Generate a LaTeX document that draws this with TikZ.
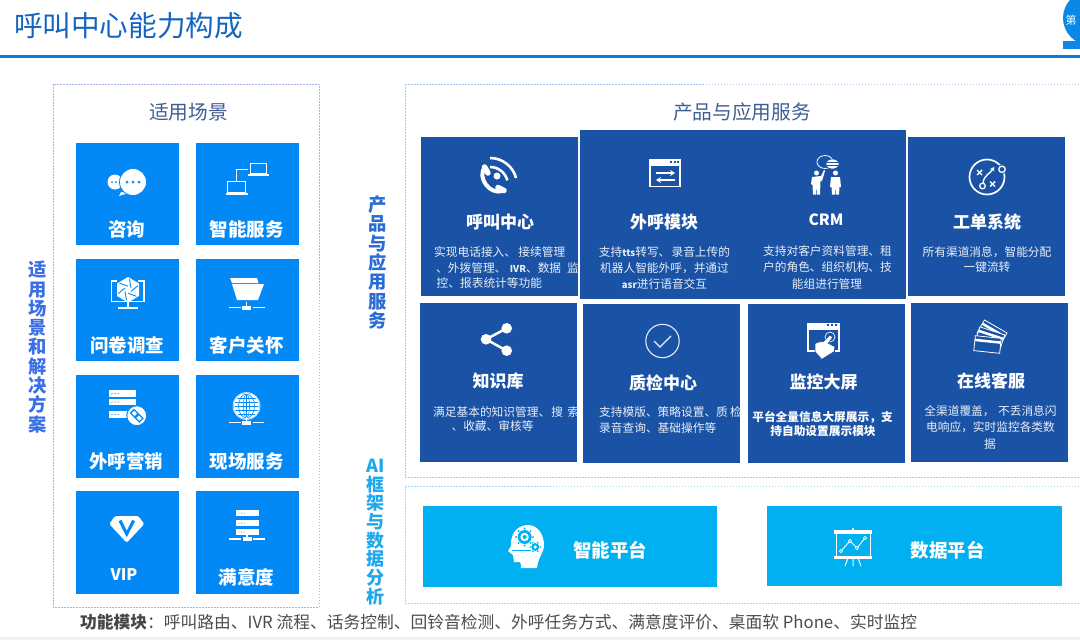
\documentclass[tikz,border=0pt]{standalone}
\usepackage{fontspec}
\usetikzlibrary{arrows.meta}
\setmainfont{Noto Sans CJK SC}
\definecolor{bright}{HTML}{0389F5}
\definecolor{deep}{HTML}{1A53A6}
\definecolor{cyanb}{HTML}{00B0F0}
\definecolor{titleblue}{HTML}{1565C0}
\definecolor{rulec}{HTML}{0A7BE2}
\definecolor{slate}{HTML}{3F5F93}
\definecolor{sideA}{HTML}{3A6FE5}
\definecolor{sideB}{HTML}{2A6CD6}
\definecolor{sideC}{HTML}{1FA8EE}
\definecolor{dashA}{HTML}{A4B2F0}
\definecolor{dashB}{HTML}{A8C8EC}
\definecolor{dashC}{HTML}{A8DCF2}
\tikzset{
  brightcell/.style={fill=bright,inner sep=0,outer sep=0},
  deepcell/.style={fill=deep,inner sep=0,outer sep=0},
  cyancell/.style={fill=cyanb,inner sep=0,outer sep=0},
  lab/.style={font=\fontsize{18.5}{20}\bfseries\selectfont,text=white,inner sep=0},
  deeptitle/.style={font=\fontsize{17}{20}\bfseries\selectfont,text=white,inner sep=0},
  desc/.style={font=\fontsize{11.7}{13}\selectfont,text=white!90!deep,inner sep=0},
  descb/.style={font=\fontsize{11.7}{13}\bfseries\selectfont,text=white,inner sep=0},
  side/.style={inner sep=0,align=center,font=\fontsize{18.3}{19.3}\bfseries\selectfont},
  head/.style={font=\fontsize{19.7}{22}\selectfont,text=slate,inner sep=0},
  ln/.style={white,line width=1},
  dotline/.style={dash pattern=on 1.5pt off 1.5pt},
}
\newcommand\cellbox[6]{\node[#6,minimum width={(#4-#2)*1pt},minimum height={(#5-#3)*1pt}] (#1) at ({(#2+#4)/2},{-(#3+#5)/2}) {};}
\newcommand\netbar[3]{%
  \fill[white] (#1-#3,-#2-.7) rectangle (#1-6,-#2+.7);
  \fill[white] (#1+6,-#2-.7) rectangle (#1+#3,-#2+.7);
  \fill[white] (#1-4.5,-#2-2) rectangle (#1+4.5,-#2+2);
  \fill[white] (#1-.7,-#2) rectangle (#1+.7,-#2+6);}
\begin{document}
\begin{tikzpicture}[x=1pt,y=1pt]
\useasboundingbox (0,0) rectangle (1080,-640);
\clip (0,0) rectangle (1080,-640);
\fill[white] (0,0) rectangle (1080,-640);
\fill[black!6] (0,-636.5) rectangle (1080,-640);
% header
\node[inner sep=0,anchor=west,text=titleblue,font=\fontsize{28.6}{32}\selectfont] (maintitle) at (14,-26) {呼叫中心能力构成};
\fill[rulec] (0,-54.5) rectangle (1080,-58);
\fill[rulec!90!cyan] (1090,-18) circle (27);
\fill[rulec!90!cyan] (1063,-41) rectangle (1080,-49);
\node[inner sep=0,text=white,font=\fontsize{11}{13}\selectfont] (pagemark) at (1071,-20) {第};
% panels
\draw[dotline,color=dashA] (53,-84) rectangle (319,-607);
\draw[dotline,color=dashB] (405,-84) rectangle (1090,-477);
\draw[dotline,color=dashC] (405,-486) rectangle (1090,-603);
\node[head] (hleft) at (188.5,-112) {适用场景};
\node[head] (hright) at (742,-112) {产品与应用服务};
% side labels
\node[side,text=sideA] (sidea) at (38,-347) {适\\用\\场\\景\\和\\解\\决\\方\\案};
\node[side,text=sideB] (sideb) at (378,-262.5) {产\\品\\与\\应\\用\\服\\务};
\node[side,text=sideC,font=\fontsize{18}{18.7}\bfseries\selectfont] (sidec) at (375.5,-532) {AI\\框\\架\\与\\数\\据\\分\\析};
% left cells
\cellbox{c1}{76}{143}{179}{245}{brightcell}
\cellbox{c2}{196}{143}{299}{245}{brightcell}
\cellbox{c3}{76}{259}{179}{361}{brightcell}
\cellbox{c4}{196}{259}{299}{361}{brightcell}
\cellbox{c5}{76}{375}{179}{478}{brightcell}
\cellbox{c6}{196}{375}{299}{478}{brightcell}
\cellbox{c7}{76}{491}{179}{594}{brightcell}
\cellbox{c8}{196}{491}{299}{594}{brightcell}
\node[lab] (t1) at (126.5,-229) {咨询};
\node[lab] (t2) at (246.5,-229) {智能服务};
\node[lab] (t3) at (127,-345) {问卷调查};
\node[lab] (t4) at (246.5,-345) {客户关怀};
\node[lab] (t5) at (126,-461) {外呼营销};
\node[lab] (t6) at (246.5,-461) {现场服务};
\node[lab,font=\fontsize{16}{20}\bfseries\selectfont] (t7) at (124,-575) {VIP};
\node[lab] (t8) at (246.5,-577) {满意度};
% icon: chat
\fill[white] (115,-182) circle (7.5);
\fill[white] (121,-192) -- (119,-196) -- (128,-193) -- cycle;
\fill[white,draw=bright,line width=.8] (133,-182) circle (13.5);
\foreach \i in {127,133,139} \fill[bright] (\i,-182) circle (1.5);
\foreach \i in {112,116} \fill[bright] (\i,-182) circle (1);
% icon: laptops
\draw[ln] (227.5,-181) rectangle (245,-192.5);
\fill[white] (226,-193.3) rectangle (247.7,-195.3);
\draw[ln] (250,-163) rectangle (266.7,-173.3);
\fill[white] (247.5,-174.3) rectangle (268.7,-176);
\draw[ln] (248,-169) -- (236,-169) -- (236,-181);
% icon: survey monitor
\draw[ln,line width=1.2] (117,-281) -- (111.5,-281) -- (111.5,-301.5) -- (144,-301.5) -- (144,-281) -- (138,-281);
\fill[white] (126.5,-302) rectangle (129,-307);
\fill[white] (117.5,-307) rectangle (138,-308.7);
\fill[white] (128,-277) -- (139,-283.5) -- (139,-296) -- (128,-302.5) -- (117,-296) -- (117,-283.5) -- cycle;
\foreach \a in {30,90,...,330} \draw[bright,line width=.9] (128,-289.7) ++(\a:3.5) -- ++(\a+70:9);
% icon: folder
\fill[white] (230,-278) -- (257,-278) -- (258.5,-283) -- (232,-283) -- cycle;
\fill[white] (232,-284) -- (264,-284) -- (258,-300) -- (237,-300) -- cycle;
\netbar{246.5}{307.5}{18}
% icon: server link
\foreach \y in {393.5,402,414.5} {\fill[white] (109,-\y-3.3) rectangle (135.5,-\y+3.3);
  \foreach \i in {112,115,118} \fill[bright] (\i,-\y) circle (.7);}
\fill[white,draw=bright,line width=1] (136.7,-415.7) circle (10);
\draw[bright,line width=1.3,rotate around={-45:(136.7,-415.7)}] (130.5,-418.2) rectangle (136.2,-413.2) (137.2,-418.2) rectangle (142.9,-413.2);
% icon: globe
\fill[white] (246.5,-406) circle (13);
\begin{scope}
\clip (246.5,-406) circle (12);
\foreach \d in {-8,-4,0,4,8} \draw[bright,line width=.6] (233,-406+\d) -- (260,-406+\d);
\foreach \d in {3,8} {\draw[bright,line width=.6] (246.5,-406) ellipse [x radius=\d,y radius=12];}
\draw[bright,line width=.6] (246.5,-418) -- (246.5,-394);
\end{scope}
\draw[white,line width=.6] (246.5,-406) circle (13.5);
\netbar{246.5}{422.5}{17.5}
% icon: VIP gem
\fill[white,rounded corners=1.5] (115,-516) -- (138.3,-516) -- (144.3,-524) -- (126.7,-542.7) -- (109.3,-524) -- cycle;
\draw[bright,line width=3] (120,-520.5) -- (126.8,-534) -- (133.6,-520.5);
% icon: server
\foreach \y in {513,523,532} {\fill[white] (236,-\y-3) rectangle (258.5,-\y+3);
  \foreach \i in {239,241.5,244} \fill[bright] (\i,-\y) circle (.5);}
\netbar{247}{539}{18}
% deep cells
\cellbox{k1}{421}{137}{578}{296}{deepcell}
\cellbox{k2}{580}{130}{744}{299}{deepcell}
\cellbox{k3}{743}{130}{906}{299}{deepcell}
\cellbox{k4}{908}{137}{1065}{296}{deepcell}
\cellbox{k5}{420}{303}{577}{462}{deepcell}
\cellbox{k6}{583}{304}{740}{463}{deepcell}
\cellbox{k7}{748}{304}{905}{463}{deepcell}
\cellbox{k8}{911}{303}{1068}{462}{deepcell}
\node[deeptitle] (d1) at (500,-222) {呼叫中心};
\node[deeptitle] (d2) at (664,-222) {外呼模块};
\node[deeptitle,font=\fontsize{15.5}{20}\bfseries\selectfont] (d3) at (826,-220) {CRM};
\node[deeptitle] (d4) at (987,-222) {工单系统};
\node[deeptitle] (d5) at (498,-381) {知识库};
\node[deeptitle] (d6) at (663,-383) {质检中心};
\node[deeptitle] (d7) at (823.5,-382) {监控大屏};
\node[deeptitle] (d8) at (991,-381) {在线客服};
% descriptions
\begin{scope}
\clip (421,-137) rectangle (578,-296);
\node[desc,anchor=west] (e1a) at (434,-252) {实现电话接入、\hspace{.2em}接续管理};
\node[desc,anchor=west] (e1b) at (436,-268) {、外拨管理、\hspace{.3em}{\fontsize{9.5}{13}\bfseries IVR}、数据\hspace{.5em}监};
\node[desc,anchor=west] (e1c) at (436.5,-283) {控、报表统计等功能};
\end{scope}
\node[desc] (e2a) at (664.5,-252) {支持{\fontsize{9.5}{13}\bfseries tts}转写、\hspace{.1em}录音上传的};
\node[desc] (e2b) at (664.5,-268) {机器人智能外呼，并通过};
\node[desc] (e2c) at (664.5,-284) {{\fontsize{9.5}{13}\bfseries asr}进行语音交互};
\node[desc] (e3a) at (827.5,-251) {支持对客户资料管理、租};
\node[desc] (e3b) at (827.5,-267) {户的角色、组织机构、技};
\node[desc] (e3c) at (827,-284) {能组进行管理};
\node[desc] (e4a) at (987,-252) {所有渠道消息，智能分配};
\node[desc] (e4b) at (987,-267) {一键流转};
\begin{scope}
\clip (420,-303) rectangle (577,-462);
\node[desc,anchor=west] (e5a) at (433,-412) {满足基本的知识管理、\hspace{.1em}搜\hspace{.4em}索};
\node[desc] (e5b) at (492.5,-426) {、收藏、审核等};
\end{scope}
\begin{scope}
\clip (583,-304) rectangle (740,-463);
\node[desc,anchor=west] (e6a) at (599,-412) {支持模版、策略设置、质\hspace{.2em}检};
\node[desc,anchor=west] (e6b) at (599,-428) {录音查询、基础操作等};
\end{scope}
\node[descb] (e7a) at (822.5,-417) {平台全量信息大屏展示，支};
\node[descb] (e7b) at (823,-431) {持自助设置展示模块};
\node[desc] (e8a) at (990.5,-411) {全渠道覆盖，\hspace{.3em}不丢消息闪};
\node[desc] (e8b) at (990.5,-427) {电响应，实时监控各类数};
\node[desc] (e8c) at (990,-444) {据};
% icon: phone
\fill[white] (497,-176) circle (3.5);
\draw[white,line width=2.6] (490,-167) arc[start angle=90,end angle=15,radius=18];
\draw[white,line width=2.6] (490,-158) arc[start angle=90,end angle=15,radius=27];
\draw[white,line width=4] (484,-168) .. controls (478,-178) and (489,-195) .. (503,-191);
\draw[white,line width=5.5,line cap=round] (484.5,-167) -- (488,-173);
\draw[white,line width=5.5,line cap=round] (498,-187.5) -- (504,-190.5);
% icon: window arrows
\draw[white,line width=1.3] (650,-160) rectangle (680,-186.5);
\fill[white] (650,-160) rectangle (680,-165.5);
\foreach \i in {670,673.5,677} \fill[deep] (\i,-162.7) rectangle +(2,1.6);
\draw[white,line width=1.4,-{Stealth[length=5pt,width=6pt]}] (656,-173) -- (675,-173);
\draw[white,line width=1.4,-{Stealth[length=5pt,width=6pt]}] (675,-180) -- (656,-180);
% icon: CRM people
\draw[white,line width=.8] (825,-162) ellipse [x radius=8,y radius=6.5];
\fill[white,draw=deep,line width=.6] (832.5,-164) ellipse [x radius=6.5,y radius=5];
\foreach \y in {-162.7,-165} \draw[deep,line width=.6] (827,\y) -- (838,\y);
\fill[white] (816.5,-173) circle (2.5);
\fill[white] (835.5,-173) circle (2.5);
\fill[white] (812,-177) -- (821,-176) -- (824,-170) -- (825,-171) -- (822,-181) -- (820.5,-181) -- (820,-194.5) -- (817,-194.5) -- (816.5,-185) -- (816,-194.5) -- (813,-194.5) -- (812.5,-185) -- (811,-184) -- cycle;
\fill[white] (831,-177) -- (840,-177) -- (841,-187) -- (839.5,-187) -- (839,-194.5) -- (836,-194.5) -- (835.5,-185) -- (835,-194.5) -- (832,-194.5) -- (831.5,-187) -- (830,-187) -- cycle;
% icon: strategy
\begin{scope}[shift={(987,-177)}]
\draw[white,line width=1.7] (0,0) circle (17.5);
\fill[deep] (15,7.7) circle (5);
\draw[white,line width=1.3] (15,7.7) circle (3.2);
\draw[white,line width=1.3] (-4.5,-9) circle (2.8);
\draw[white,line width=1.4] (-10,2) -- (-5,7) (-10,7) -- (-5,2);
\draw[white,line width=1.4] (3,-4.5) -- (8,-9.5) (3,-9.5) -- (8,-4.5);
\draw[white,line width=1.4,-{Stealth[length=4pt,width=5pt]}] (-4,-6) .. controls (-3,2) and (3,3) .. (7,10);
\end{scope}
% icon: share
\draw[white,line width=2.5] (506.7,-328.3) -- (486,-339.3) -- (506.7,-350.7);
\fill[white] (506.7,-328.3) circle (5.3) (486,-339.3) circle (5.3) (506.7,-350.7) circle (5.3);
% icon: check
\draw[white!90!deep,line width=1.1] (662.5,-341) circle (16.7);
\draw[white!90!deep,line width=1.1] (654,-341) -- (660,-347) -- (671,-336);
% icon: monitor hand
\draw[white,line width=1.2] (815,-351) -- (808,-351) -- (808,-324) -- (839,-324) -- (839,-351) -- (835,-351);
\fill[white] (808,-324) rectangle (839,-329.5);
\foreach \i in {827,831,835} \fill[deep] (\i,-326) rectangle +(2.4,1.6);
\draw[white,line width=.7] (830,-337) circle (5);
\fill[white,draw=deep,line width=.6] (815,-343.5) -- (820,-341.7) -- (823.3,-341.7) -- (830,-335) -- (832.7,-337.3) -- (828.3,-343.3) -- (835,-346.7) -- (834,-351.7) -- (821.7,-359.3) -- (815,-351.7) -- cycle;
% icon: cards
\foreach \a/\cx/\cy in {-30/992/-333,-18/990/-338,-6/987.5/-344.5} {
  \begin{scope}[shift={(\cx,\cy)},rotate=\a]
  \filldraw[fill=deep,draw=white,line width=.8] (-13,-7.5) rectangle (13,7.5);
  \fill[white] (-13,2) rectangle (13,4.5);
  \end{scope}}
% platforms
\cellbox{p1}{422.5}{506}{717}{587}{cyancell}
\cellbox{p2}{767}{506}{1062}{586}{cyancell}
\node[lab] (q1) at (610,-550) {智能平台};
\node[lab] (q2) at (947.5,-550) {数据平台};
% icon: head with gears
\begin{scope}[shift={(526,-547)}]
\fill[white] (-5,-21) .. controls (-5,-18) and (-5,-16) .. (-6,-15) -- (-12,-15) -- (-13,-8) -- (-18,-4) -- (-15,1) .. controls (-16,16) and (-6,22) .. (2,22) .. controls (12,22) and (18,12) .. (18,2) .. controls (18,-6) and (12,-10) .. (11,-21) -- cycle;
\foreach \a in {0,45,...,315} \fill[cyanb] (-1.4,10) ++(\a:8.5) circle (1.1);
\fill[cyanb] (-1.4,10) circle (7);
\fill[white] (-1.4,10) circle (4.2);
\fill[cyanb] (-1.4,10) circle (2);
\foreach \a in {0,60,...,300} \fill[cyanb] (9.3,0) ++(\a:5) circle (.9);
\fill[cyanb] (9.3,0) circle (4);
\fill[white] (9.3,0) circle (1.8);
\draw[cyanb,line width=.4] (-14,-3) -- (5,-3);
\end{scope}
% icon: chart board
\fill[white] (852,-528) rectangle (854,-532);
\fill[white] (834,-530) rectangle (872,-534);
\draw[white,line width=1] (836,-534) -- (836,-556) (870,-534) -- (870,-556);
\fill[white] (834,-555.5) rectangle (872,-558.5);
\draw[white,line width=1] (853,-558) -- (853,-566) (848,-558) -- (845,-566) (858,-558) -- (861,-566);
\draw[white,line width=.9] (841,-551) -- (850,-541) -- (857,-548) -- (865,-538);
\foreach \p/\q in {841/-551,850/-541,857/-548,865/-538} \filldraw[fill=cyanb,draw=white,line width=.7] (\p,\q) circle (1.6);
% footer
\node[inner sep=0,anchor=west,text=black!70,font=\fontsize{16.75}{20}\selectfont] (foot) at (80,-622) {{\bfseries\color{black!72} 功能模块}：呼叫路由、IVR 流程、话务控制、回铃音检测、外呼任务方式、满意度评价、桌面软 Phone、实时监控};
\end{tikzpicture}
\end{document}
